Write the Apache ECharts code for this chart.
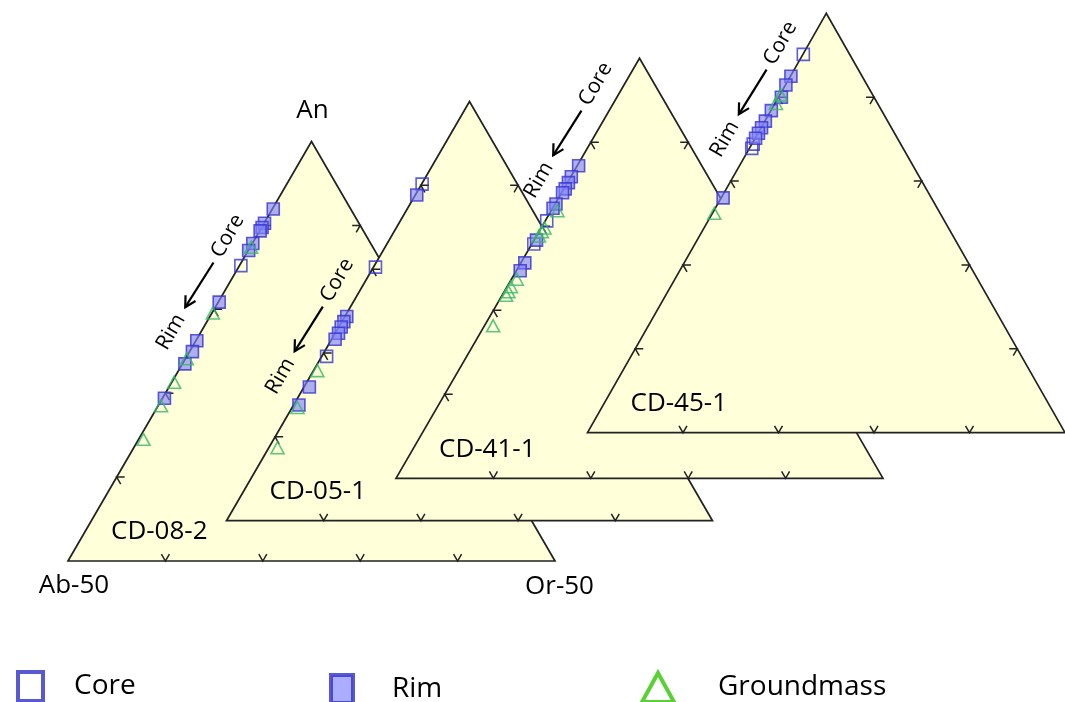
<!DOCTYPE html>
<html>
<head>
<meta charset="utf-8">
<script src="https://cdn.jsdelivr.net/npm/echarts@6/dist/echarts.min.js"></script>
<style>
  html, body { margin: 0; padding: 0; background: #ffffff; }
  #chart { width: 1065px; height: 702px; }
</style>
</head>
<body>
<div id="chart"></div>
<script>
// Samples, from the front diagram to the back one
const samples = ['CD-08-2', 'CD-05-1', 'CD-41-1', 'CD-45-1'];

// Feldspar compositions as [An, Or] fractions of the Ab-50 / An / Or-50 triangle (Ab is the rest)
const core = [
  [[0.704, 0.003]],
  [[0.803, 0.001], [0.605, 0.004], [0.392, 0.010]],
  [[0.613, 0.003], [0.558, 0.004]],
  [[0.902, 0.001], [0.688, 0.003], [0.678, 0.005]]
];
const rim = [
  [[0.839, 0.002], [0.805, 0.001], [0.795, 0.001], [0.787, 0.001], [0.757, 0.001], [0.740, 0.001],
   [0.617, 0.002], [0.525, 0.002], [0.499, 0.006], [0.470, 0.005], [0.388, 0.004]],
  [[0.777, 0.003], [0.487, 0.004], [0.475, 0.004], [0.462, 0.005], [0.447, 0.007], [0.433, 0.007],
   [0.319, 0.011], [0.276, 0.011]],
  [[0.744, 0.003], [0.718, 0.001], [0.704, 0.002], [0.689, 0.003], [0.680, 0.002], [0.653, 0.002],
   [0.643, 0.001], [0.567, 0.005], [0.513, 0.008], [0.494, 0.008]],
  [[0.850, 0.001], [0.829, 0.001], [0.800, 0.006], [0.768, 0.001], [0.743, 0.001], [0.727, 0.001],
   [0.714, 0.001], [0.702, 0.001], [0.560, 0.004]]
];
const groundmass = [
  [[0.748, 0.002], [0.591, 0.002], [0.482, 0.003], [0.426, 0.005], [0.370, 0.006], [0.290, 0.010]],
  [[0.358, 0.008], [0.270, 0.011], [0.174, 0.018]],
  [[0.637, 0.013], [0.596, 0.007], [0.587, 0.006], [0.577, 0.005], [0.474, 0.011], [0.456, 0.008],
   [0.444, 0.009], [0.436, 0.008], [0.363, 0.018]],
  [[0.805, 0.002], [0.785, 0.002], [0.523, 0.004]]
];

// Tick positions on every side, and the corner names of the front diagram
const tickFractions = [0.2, 0.4, 0.6, 0.8];
const cornerLabels = ['An', 'Ab-50', 'Or-50'];
// An value on the Ab-An side where each "Rim <- Core" note sits (position of "Core")
const zoningNoteAn = [0.745, 0.544, 0.909, 0.899];

// Pixel boxes of the four stacked triangles
const frames = [
  { left: 68,    top: 141.5, width: 487, height: 419.5 },
  { left: 226.5, top: 101.5, width: 486, height: 419.2 },
  { left: 396,   top: 58.3,  width: 487, height: 420 },
  { left: 587.5, top: 13.3,  width: 487, height: 419.4 }
];

const INK = '#222222';
const FILL = '#ffffd9';
const FONT = 'Open Sans';
const CORE_C = '#3535d2';
const RIM_C = '#3333cf';
const RIM_FILL = 'rgba(130,130,250,0.8)';
const GM_C = '#38b56a';

// ternary [An, Or] -> cartesian [x, y] in a unit-width triangle
const toXY = ([an, or]) => [or + an / 2, an];

function arms(p, d1, d2, len) {
  return {
    type: 'polyline',
    shape: { points: [[p[0] + d1[0] * len, p[1] + d1[1] * len], [p[0], p[1]], [p[0] + d2[0] * len, p[1] + d2[1] * len]] },
    style: { stroke: INK, lineWidth: 1.5, fill: 'none' }
  };
}

function text(str, x, y, size, opts) {
  opts = opts || {};
  return {
    type: 'text', x: x, y: y, rotation: opts.rotation || 0,
    style: {
      text: str, fill: '#000', fontSize: size, fontFamily: FONT,
      align: opts.align || 'center', verticalAlign: 'middle',
      textAlign: opts.align || 'center', textVerticalAlign: 'middle'
    }
  };
}

function frameRenderer(i) {
  return function (params, api) {
    const A = api.coord([0.5, 1]);
    const B = api.coord([0, 0]);
    const C = api.coord([1, 0]);
    const kids = [];
    kids.push({
      type: 'polygon', shape: { points: [A, B, C] },
      style: { fill: FILL, stroke: INK, lineWidth: 1.7, lineJoin: 'miter' }
    });
    const s = Math.sqrt(3) / 2, L = 8;
    tickFractions.forEach(t => {
      kids.push(arms(api.coord([t, 0]), [-0.5, -s], [0.5, -s], L));          // Ab-Or side
      kids.push(arms(api.coord([t / 2, t]), [1, 0], [0.5, s], L));            // Ab-An side
      kids.push(arms(api.coord([1 - t / 2, t]), [-1, 0], [-0.5, s], L));      // An-Or side
    });
    // sample name
    kids.push(text(samples[i], B[0] + 43, B[1] - 29, 26, { align: 'left' }));
    // corner names on the front diagram
    if (i === 0) {
      kids.push(text(cornerLabels[0], A[0] + 1, A[1] - 30.5, 26));
      kids.push(text(cornerLabels[1], B[0] + 6, B[1] + 25, 26));
      kids.push(text(cornerLabels[2], C[0] + 4.5, C[1] + 26, 26));
    }
    // zoning note beside the Ab-An side: Rim <- Core
    const a = zoningNoteAn[i];
    const n = [-s, -0.5];
    const off = (an, d) => { const p = api.coord([an / 2, an]); return [p[0] + n[0] * d, p[1] + n[1] * d]; };
    const cp = off(a, 25), rp = off(a - 0.23, 26);
    kids.push(text('Core', cp[0], cp[1], 21, { rotation: Math.PI / 3 }));
    kids.push(text('Rim', rp[0], rp[1], 21, { rotation: Math.PI / 3 }));
    const p0 = off(a - 0.062, 24), p1 = off(a - 0.171, 26);
    kids.push({ type: 'line', shape: { x1: p0[0], y1: p0[1], x2: p1[0], y2: p1[1] }, style: { stroke: '#000', lineWidth: 2.2 } });
    const back = [0.5, -s], ang = 0.5, hl = 12;
    const rot = (v, t) => [v[0] * Math.cos(t) - v[1] * Math.sin(t), v[0] * Math.sin(t) + v[1] * Math.cos(t)];
    const h1 = rot(back, ang), h2 = rot(back, -ang);
    kids.push({
      type: 'polyline',
      shape: { points: [[p1[0] + h1[0] * hl, p1[1] + h1[1] * hl], p1, [p1[0] + h2[0] * hl, p1[1] + h2[1] * hl]] },
      style: { stroke: '#000', lineWidth: 2.2, fill: 'none' }
    });
    return { type: 'group', children: kids };
  };
}

const grid = [], xAxis = [], yAxis = [], series = [];
samples.forEach((name, i) => {
  const f = frames[i];
  grid.push({ left: f.left, top: f.top, width: f.width, height: f.height, containLabel: false });
  xAxis.push({ type: 'value', gridIndex: i, min: 0, max: 1, show: false });
  yAxis.push({ type: 'value', gridIndex: i, min: 0, max: 1, show: false });
  series.push({
    type: 'custom', xAxisIndex: i, yAxisIndex: i, z: 10 * i + 1, silent: true,
    renderItem: frameRenderer(i), data: [[0.5, 0.5]]
  });
  series.push({
    type: 'scatter', name: 'Core', xAxisIndex: i, yAxisIndex: i, z: 10 * i + 2,
    symbol: 'rect', symbolSize: 12,
    itemStyle: { color: 'rgba(0,0,0,0)', borderColor: CORE_C, borderWidth: 1.6 },
    data: core[i].map(toXY)
  });
  series.push({
    type: 'scatter', name: 'Rim', xAxisIndex: i, yAxisIndex: i, z: 10 * i + 3,
    symbol: 'rect', symbolSize: 12,
    itemStyle: { color: RIM_FILL, borderColor: RIM_C, borderWidth: 1.6 },
    data: rim[i].map(toXY)
  });
  series.push({
    type: 'scatter', name: 'Groundmass', xAxisIndex: i, yAxisIndex: i, z: 10 * i + 4,
    symbol: 'triangle', symbolSize: [13, 12],
    itemStyle: { color: 'rgba(0,0,0,0)', borderColor: GM_C, borderWidth: 1.6 },
    data: groundmass[i].map(toXY)
  });
});

function legendBox(left, top, w, h, pad, item) {
  return {
    left: left, top: top, padding: 0, itemWidth: w, itemHeight: h, selectedMode: false,
    textStyle: { fontSize: 28, fontFamily: FONT, color: '#000', padding: [0, 0, 0, pad] },
    data: [item]
  };
}

const chart = echarts.init(document.getElementById('chart'), null, { renderer: 'canvas' });
chart.setOption({
  animation: false,
  backgroundColor: '#ffffff',
  grid: grid,
  xAxis: xAxis,
  yAxis: yAxis,
  legend: [
    legendBox(16, 670, 25, 29, 26, { name: 'Core', icon: 'rect', itemStyle: { color: 'rgba(0,0,0,0)', borderColor: '#2f2fc8', borderWidth: 4 } }),
    legendBox(329, 673, 22, 28, 34, { name: 'Rim', icon: 'rect', itemStyle: { color: '#9999ff', borderColor: '#2f2fc8', borderWidth: 4 } }),
    legendBox(640, 671, 32, 29, 39, { name: 'Groundmass', icon: 'triangle', itemStyle: { color: 'rgba(0,0,0,0)', borderColor: '#2fc400', borderWidth: 4 } })
  ],
  series: series
});
</script>
</body>
</html>
